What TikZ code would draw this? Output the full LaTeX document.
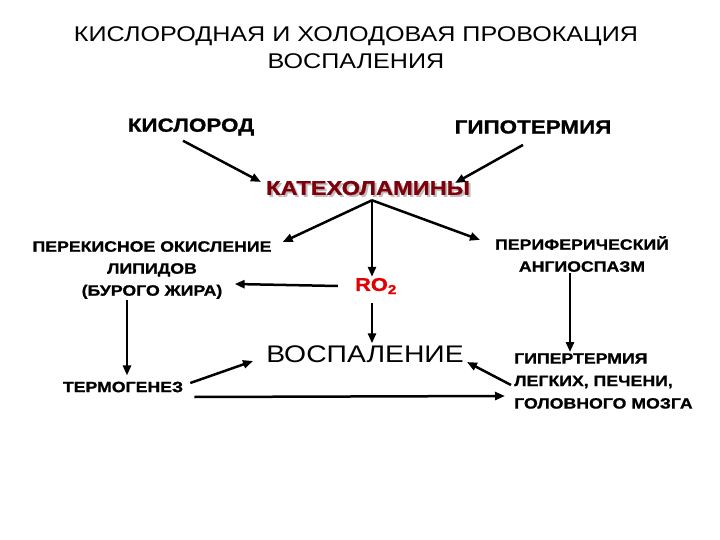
\documentclass[tikz,border=0pt]{standalone}
\usepackage{fontspec}
\setmainfont{Liberation Sans}[FakeStretch=1.18, BoldFeatures={FakeBold=1}]
\usetikzlibrary{arrows.meta, positioning, calc}
\definecolor{katred}{RGB}{125,0,10}
\definecolor{rored}{RGB}{228,0,0}
\begin{document}
\begin{tikzpicture}[x=1pt,y=-1pt,
  lbl/.style={font=\bfseries\fontsize{15}{22}\selectfont, align=center, inner sep=1pt},
  big/.style={font=\bfseries\fontsize{19}{22}\selectfont, inner sep=1pt},
  arr/.style={-{Triangle[length=10pt,width=8pt]}, line width=2.5pt},
]
\useasboundingbox (0,0) rectangle (720,540);
% titolo
\node[font=\fontsize{21.3}{27}\selectfont, align=center] (title) at (356,48)
  {КИСЛОРОДНАЯ И ХОЛОДОВАЯ ПРОВОКАЦИЯ\\ВОСПАЛЕНИЯ};
\node[big] (kisl) at (191,127) {КИСЛОРОД};
\node[big] (gipo) at (533,127) {ГИПОТЕРМИЯ};
\node[big, font=\bfseries\fontsize{20}{24}\selectfont, text=gray!50] (katsh) at (370,190) {КАТЕХОЛАМИНЫ};
\node[big, font=\bfseries\fontsize{20}{24}\selectfont, text=katred] (kat) at (368,188) {КАТЕХОЛАМИНЫ};
\node[lbl] (perek) at (152,270) {ПЕРЕКИСНОЕ ОКИСЛЕНИЕ\\ЛИПИДОВ\\(БУРОГО ЖИРА)};
\node[big, font=\bfseries\fontsize{18.5}{20}\selectfont, text=rored] (ro) at (376,286) {RO\textsubscript{2}};
\node[lbl] (peri) at (582,254) {ПЕРИФЕРИЧЕСКИЙ\\АНГИОСПАЗМ};
\node[font=\fontsize{24}{26}\selectfont, inner sep=1pt] (vosp) at (365,354) {ВОСПАЛЕНИЕ};
\node[lbl] (termo) at (123,387) {ТЕРМОГЕНЕЗ};
\node[lbl, align=left, anchor=west, font=\bfseries\fontsize{15}{22.5}\selectfont] (giper) at (513,381)
  {ГИПЕРТЕРМИЯ\\ЛЕГКИХ, ПЕЧЕНИ,\\ГОЛОВНОГО МОЗГА};
\coordinate (br) at ($(kat.south)+(4,4)$);
% frecce
\draw[arr] ([shift={(-8,4)}]kisl.south) -- ([shift={(-4,-6)}]kat.west);
\draw[arr] ([shift={(-10,10)}]gipo.south) -- ([shift={(-16,-5)}]kat.east);
\draw[arr] (br) -- ([shift={(10,2)}]perek.north east);
\draw[arr] (br) -- (br |- ro.north);
\draw[arr] (br) -- ([shift={(-102,5)}]peri.north);
\draw[arr] ([xshift=-16pt]ro.west) -- ($(ro.west -| perek.east)+(-38,-2)$);
\draw[arr] ($(ro.south -| br)+(0,8)$) -- ($(vosp.north -| br)+(0,-1)$);
\draw[arr] ([xshift=-25pt]perek.south) -- ([shift={(4,-5)}]termo.north);
\draw[arr] ([shift={(6,-4)}]termo.east) -- ([shift={(-12,7)}]vosp.west);
\draw[arr] ([shift={(10,10)}]termo.east) -- ([shift={(-8,15)}]giper.west);
\draw[arr] ([xshift=-12pt]peri.south) -- ([xshift=57pt]giper.north west);
\draw[arr] ([shift={(-2,4)}]giper.west) -- ([shift={(2,8)}]vosp.east);
\end{tikzpicture}
\end{document}
